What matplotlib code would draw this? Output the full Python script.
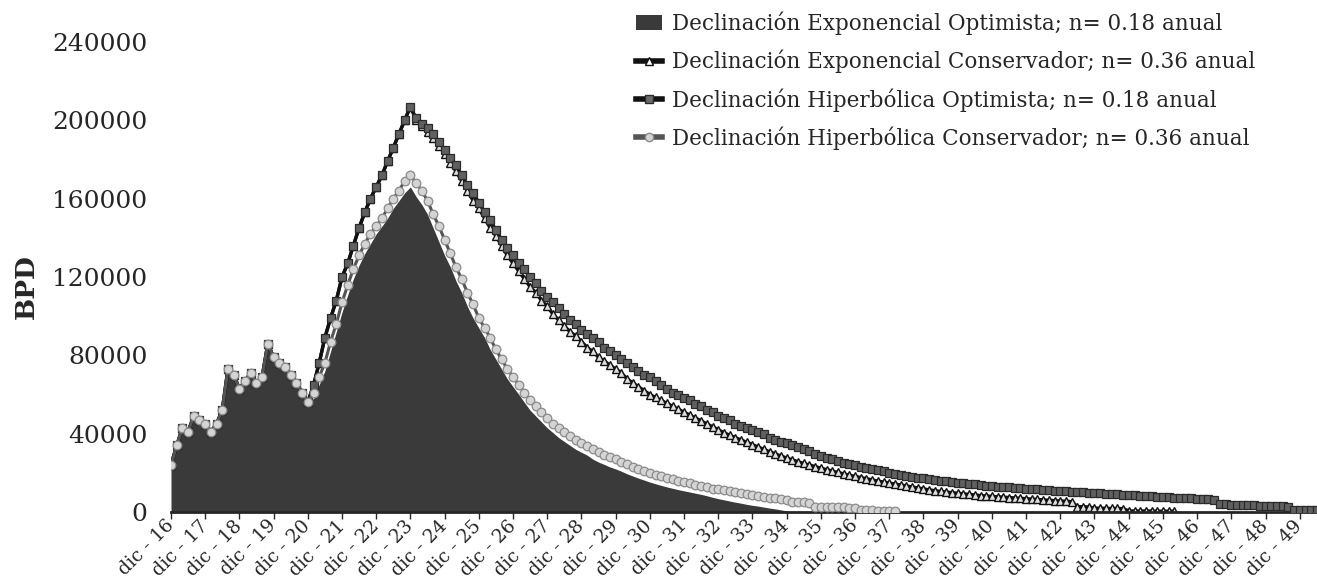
import numpy as np
import pandas as pd
import matplotlib
matplotlib.use('Agg')
import matplotlib.pyplot as plt
from matplotlib.patches import Patch

plt.rcParams['font.family'] = ['DejaVu Serif']

# miles de BPD, un valor cada 2 meses desde dic-16
hist = [24, 34, 43, 41, 49, 47, 45, 41, 45, 52, 73, 70, 63, 67, 71, 66, 69, 86, 79, 76,
        74, 70, 66, 61, 56]

# subida hasta el pico (dic-20 -> dic-23)
rise_high = [65, 76, 89, 99, 108, 120, 127, 136, 145, 153, 160, 166, 172, 179, 186, 193, 200, 207]
rise_circ = [61, 69, 76, 87, 96, 107, 116, 124, 131, 137, 142, 146, 150, 155, 160, 164, 169, 172]
rise_area = [58, 65, 72, 82, 92, 102, 111, 119, 126, 132, 137, 142, 146, 150, 155, 159, 163, 166]

# declinaciones despues del pico
decl_hip_opt = [201, 198, 196, 193, 189, 185, 181, 177, 172, 167,
                163, 158, 153, 149, 144, 139, 135, 131, 127, 124,
                120, 117, 113, 110, 107, 104, 101, 98, 96, 93,
                91, 89, 87, 84, 82, 80, 78, 76, 74, 72,
                70, 69, 67, 65, 63, 61, 60, 58, 57, 55,
                54, 52, 51, 49, 48, 47, 45, 44, 43, 42,
                41, 40, 38, 37, 36, 35, 34, 33, 32, 31,
                29.5, 28.5, 27.8, 27, 26, 25.2, 24.5, 23.8, 23.1, 22.5,
                21.9, 21.3, 20.7, 20.1, 19.6, 19.1, 18.6, 18.1, 17.6, 17.2,
                16.8, 16.4, 16, 15.7, 15.4, 15, 14.7, 14.4, 14.1, 13.8,
                13.5, 13.3, 13, 12.8, 12.6, 12.3, 12.1, 11.9, 11.7, 11.5,
                11.3, 11.1, 10.9, 10.7, 10.5, 10.3, 10.2, 10, 9.8, 9.6,
                9.5, 9.3, 9.1, 9.0, 8.8, 8.6, 8.5, 8.3, 8.1, 8.0,
                7.8, 7.6, 7.5, 7.3, 7.2, 7.0, 6.9, 6.7, 6.6, 6.4,
                6.3, 4.0, 3.9, 3.8, 3.7, 3.6, 3.5, 3.4, 3.3, 3.2,
                3.1, 3.0, 2.9, 2.8, 1.2, 1.1, 1.1, 1.0, 1.0]

decl_exp_cons = [200, 197, 194, 191, 187, 183, 178, 174, 169, 164,
                 159, 155, 150, 145, 141, 136, 131, 127, 123, 119,
                 115, 112, 108, 105, 101, 98, 95, 92, 90, 87,
                 84, 82, 79, 77, 75, 73, 71, 68, 66, 64,
                 62, 60, 58.5, 57, 55.5, 54, 52.5, 51, 49.5, 48,
                 46.5, 45, 43.5, 42, 40.5, 39.2, 38, 36.8, 35.6, 34.4,
                 33.2, 32, 30.8, 29.7, 28.6, 27.6, 26.6, 25.7, 24.8, 24.0,
                 23.2, 22.4, 21.6, 20.9, 20.2, 19.5, 18.8, 18.2, 17.6, 17.0,
                 16.4, 15.8, 15.3, 14.8, 14.3, 13.8, 13.3, 12.8, 12.3, 11.8,
                 11.3, 10.9, 10.5, 10.2, 9.9, 9.6, 9.3, 9.0, 8.7, 8.4,
                 8.2, 8.0, 7.8, 7.6, 7.4, 7.2, 7.0, 6.8, 6.6, 6.4,
                 6.2, 6.0, 5.8, 5.6, 5.5, 5.3, 2.8, 2.7, 2.6, 2.0,
                 1.9, 1.9, 1.8, 1.8, 1.7, 0.6, 0.5, 0.5, 0.5, 0.5,
                 0.4, 0.4, 0.4, 0.4]

decl_hip_cons = [168, 164, 159, 152, 146, 139, 132, 125, 119, 112,
                 106, 99, 94, 89, 83, 78, 73, 69, 65, 61,
                 57, 54, 51, 48, 45, 43, 41, 39, 37, 35,
                 33.5, 32, 30.5, 29, 28, 27, 25.5, 24.3, 23.1, 22,
                 21, 20, 19.1, 18.3, 17.5, 16.7, 16, 15.3, 14.6, 13.9,
                 13.2, 12.6, 12, 11.5, 11, 10.5, 10, 9.5, 9.1, 8.6,
                 8.2, 7.8, 7.4, 7.0, 6.6, 6.3, 5.3, 5.1, 4.9, 4.7,
                 2.8, 2.7, 2.6, 2.5, 2.4, 2.3, 2.0, 2.0, 0.8, 0.8,
                 0.8, 0.7, 0.7, 0.7, 0.7]

decl_exp_opt = [161, 157, 152, 145, 138, 131, 125, 118, 112, 105,
                99, 94, 89, 83, 78, 73, 68, 64, 60, 56,
                52, 49, 46, 43, 40.5, 38, 36, 34, 32, 30.5,
                29, 27, 25.5, 24.3, 23, 22, 20.8, 19.5, 18.4, 17.3,
                16.3, 15.3, 14.4, 13.6, 12.8, 12.1, 11.4, 10.8, 10.2, 9.6,
                9.0, 8.3, 7.5, 6.8, 6.2, 5.6, 5.0, 4.5, 3.9, 3.4,
                3.0, 2.5, 2.0, 1.6, 1.1, 0.5, 0]

labels = ['Declinación Exponencial Optimista; n= 0.18 anual',
          'Declinación Exponencial Conservador; n= 0.36 anual',
          'Declinación Hiperbólica Optimista; n= 0.18 anual',
          'Declinación Hiperbólica Conservador; n= 0.36 anual']
tick_labels = ['dic - %d' % y for y in range(16, 50)]


def build(*parts, n=202):
    vals = np.concatenate([np.asarray(p, dtype=float) for p in parts]) * 1000
    out = np.full(n, np.nan)
    out[:len(vals)] = vals
    return out


exp_opt = build(hist, rise_area, decl_exp_opt)
exp_cons = build(hist, rise_high, decl_exp_cons)
hip_opt = build(hist, rise_high, decl_hip_opt)
hip_cons = build(hist, rise_circ, decl_hip_cons)
dates = pd.date_range('2016-12-01', periods=len(exp_opt), freq='2MS')
tick_dates = pd.date_range('2016-12-01', periods=len(tick_labels), freq='12MS')

fig = plt.figure(figsize=(13.17, 5.78), dpi=100)
ax = fig.add_axes([171 / 1317, 66 / 578, 1146 / 1317, 470 / 578])

ax.fill_between(dates, 0, exp_opt, where=~np.isnan(exp_opt), color='#3a3a3a', lw=0, zorder=1)
ax.plot(dates, exp_cons, color='#111111', lw=2.4, marker='^', ms=6,
        mfc='#dedede', mec='#111111', mew=1.0, zorder=2)
ax.plot(dates, hip_opt, color='#111111', lw=2.4, marker='s', ms=6.2,
        mfc='#606060', mec='#2a2a2a', mew=0.9, zorder=3)
ax.plot(dates, hip_cons, color='#555555', lw=2.2, marker='o', ms=6.2,
        mfc='#d4d4d4', mec='#8a8a8a', mew=0.9, zorder=4)

ax.set_xlim(dates[0], dates[-1] + pd.Timedelta(days=2))
ax.set_ylim(0, 240000)
ax.set_yticks(np.arange(0, 240001, 40000))
ax.tick_params(axis='y', length=0, pad=17, labelsize=18, labelcolor='#262626')
ax.set_xticks(tick_dates)
ax.set_xticklabels(tick_labels)
ax.tick_params(axis='x', length=5, width=1, color='#262626', labelsize=13.5,
               labelcolor='#262626', pad=3, labelrotation=45)
plt.setp(ax.get_xticklabels(), ha='right', va='center', rotation_mode='anchor')
for s in ['top', 'right', 'left']:
    ax.spines[s].set_visible(False)
ax.spines['bottom'].set_color('#262626')
ax.spines['bottom'].set_linewidth(2)

fig.text(26 / 1317, 1 - 287 / 578, 'BPD', rotation=90, ha='center', va='center',
         fontsize=19, fontweight='bold', color='#262626')

handles = [Patch(facecolor='#3a3a3a', edgecolor='none'),
           plt.Line2D([], [], color='#111111', lw=4, marker='^', ms=6, mfc='white', mec='#111111'),
           plt.Line2D([], [], color='#111111', lw=4, marker='s', ms=6, mfc='#6b6b6b', mec='#2a2a2a'),
           plt.Line2D([], [], color='#555555', lw=4, marker='o', ms=6, mfc='#d4d4d4', mec='#8a8a8a')]
fig.legend(handles, labels, loc='upper left', bbox_to_anchor=(624 / 1317, 1.0),
           frameon=False, fontsize=15.5, handlelength=1.2, handletextpad=0.5,
           labelspacing=0.68, borderpad=0.05, labelcolor='#262626')

fig.savefig('out.png', dpi=100)
